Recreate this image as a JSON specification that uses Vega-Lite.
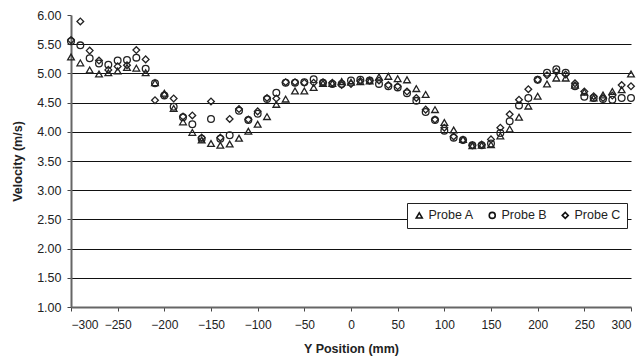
{
  "$schema": "https://vega.github.io/schema/vega-lite/v6.json",
  "width": 560,
  "height": 292,
  "autosize": {"type": "none"},
  "padding": {"left": 71, "top": 15, "right": 12, "bottom": 57},
  "background": "white",
  "config": {
    "view": {"stroke": null},
    "font": "Liberation Sans",
    "axis": {"labelFont": "Liberation Sans", "titleFont": "Liberation Sans", "labelColor": "#222", "titleColor": "#222"}
  },
  "data": {"values": [
    {"pos": -300, "A": 5.28, "B": 5.55, "C": 5.57},
    {"pos": -290, "A": 5.18, "B": 5.48, "C": 5.89},
    {"pos": -280, "A": 5.06, "B": 5.26, "C": 5.39},
    {"pos": -270, "A": 4.99, "B": 5.17, "C": 5.22},
    {"pos": -260, "A": 5.01, "B": 5.15, "C": 5.06},
    {"pos": -250, "A": 5.04, "B": 5.22, "C": 5.12},
    {"pos": -240, "A": 5.10, "B": 5.23, "C": 5.14},
    {"pos": -230, "A": 5.09, "B": 5.27, "C": 5.40},
    {"pos": -220, "A": 5.01, "B": 5.08, "C": 5.24},
    {"pos": -210, "A": 4.84, "B": 4.83, "C": 4.54},
    {"pos": -200, "A": 4.66, "B": 4.62, "C": 4.63},
    {"pos": -190, "A": 4.40, "B": 4.43, "C": 4.57},
    {"pos": -180, "A": 4.17, "B": 4.25, "C": 4.26},
    {"pos": -170, "A": 3.99, "B": 4.13, "C": 4.28},
    {"pos": -160, "A": 3.86, "B": 3.88, "C": 3.90},
    {"pos": -150, "A": 3.80, "B": 4.22, "C": 4.52},
    {"pos": -140, "A": 3.77, "B": 3.88, "C": 3.90},
    {"pos": -130, "A": 3.79, "B": 3.94, "C": 4.22},
    {"pos": -120, "A": 3.89, "B": 4.36, "C": 4.39},
    {"pos": -110, "A": 4.01, "B": 4.20, "C": 4.21},
    {"pos": -100, "A": 4.13, "B": 4.31, "C": 4.35},
    {"pos": -90, "A": 4.26, "B": 4.56, "C": 4.58},
    {"pos": -80, "A": 4.47, "B": 4.67, "C": 4.57},
    {"pos": -70, "A": 4.56, "B": 4.84, "C": 4.85},
    {"pos": -60, "A": 4.70, "B": 4.84, "C": 4.85},
    {"pos": -50, "A": 4.70, "B": 4.85, "C": 4.84},
    {"pos": -40, "A": 4.76, "B": 4.90, "C": 4.84},
    {"pos": -30, "A": 4.83, "B": 4.84, "C": 4.85},
    {"pos": -20, "A": 4.83, "B": 4.82, "C": 4.84},
    {"pos": -10, "A": 4.86, "B": 4.82, "C": 4.80},
    {"pos": 0, "A": 4.85, "B": 4.88, "C": 4.82},
    {"pos": 10, "A": 4.86, "B": 4.89, "C": 4.87},
    {"pos": 20, "A": 4.87, "B": 4.88, "C": 4.88},
    {"pos": 30, "A": 4.94, "B": 4.82, "C": 4.88},
    {"pos": 40, "A": 4.95, "B": 4.78, "C": 4.80},
    {"pos": 50, "A": 4.91, "B": 4.76, "C": 4.78},
    {"pos": 60, "A": 4.89, "B": 4.66, "C": 4.69},
    {"pos": 70, "A": 4.74, "B": 4.53, "C": 4.58},
    {"pos": 80, "A": 4.64, "B": 4.34, "C": 4.38},
    {"pos": 90, "A": 4.38, "B": 4.20, "C": 4.21},
    {"pos": 100, "A": 4.16, "B": 4.02, "C": 4.07},
    {"pos": 110, "A": 4.03, "B": 3.90, "C": 3.92},
    {"pos": 120, "A": 3.87, "B": 3.86, "C": 3.86},
    {"pos": 130, "A": 3.76, "B": 3.77, "C": 3.77},
    {"pos": 140, "A": 3.77, "B": 3.77, "C": 3.78},
    {"pos": 150, "A": 3.78, "B": 3.80, "C": 3.87},
    {"pos": 160, "A": 3.93, "B": 3.98, "C": 4.07},
    {"pos": 170, "A": 4.05, "B": 4.18, "C": 4.30},
    {"pos": 180, "A": 4.25, "B": 4.45, "C": 4.55},
    {"pos": 190, "A": 4.44, "B": 4.58, "C": 4.73},
    {"pos": 200, "A": 4.61, "B": 4.89, "C": 4.89},
    {"pos": 210, "A": 4.82, "B": 5.01, "C": 4.97},
    {"pos": 220, "A": 4.92, "B": 5.07, "C": 5.03},
    {"pos": 230, "A": 4.92, "B": 5.01, "C": 4.98},
    {"pos": 240, "A": 4.80, "B": 4.78, "C": 4.83},
    {"pos": 250, "A": 4.68, "B": 4.60, "C": 4.69},
    {"pos": 260, "A": 4.58, "B": 4.58, "C": 4.61},
    {"pos": 270, "A": 4.63, "B": 4.56, "C": 4.58},
    {"pos": 280, "A": 4.69, "B": 4.55, "C": 4.62},
    {"pos": 290, "A": 4.72, "B": 4.58, "C": 4.80},
    {"pos": 300, "A": 4.99, "B": 4.58, "C": 4.78}
  ]},
  "transform": [
    {"fold": ["A", "B", "C"], "as": ["probe", "velocity"]},
    {"calculate": "'Probe ' + datum.probe", "as": "Probe"}
  ],
  "mark": {"type": "point", "filled": false, "strokeWidth": 1.3, "size": 45, "opacity": 1},
  "encoding": {
    "x": {
      "field": "pos", "type": "quantitative",
      "scale": {"domain": [-300, 300], "nice": false, "zero": false},
      "axis": {
        "title": "Y Position (mm)", "titleFontSize": 12.5, "titleFontWeight": "bold", "titlePadding": 12,
        "values": [-300, -250, -200, -150, -100, -50, 0, 50, 100, 150, 200, 250, 300],
        "labelFontSize": 12, "labelPadding": 8, "grid": false,
        "domainColor": "#666", "domainWidth": 2, "tickColor": "#444", "tickSize": 4
      }
    },
    "y": {
      "field": "velocity", "type": "quantitative",
      "scale": {"domain": [1, 6], "nice": false, "zero": false},
      "axis": {
        "title": "Velocity (m/s)", "titleFontSize": 12.5, "titleFontWeight": "bold", "titlePadding": 12,
        "values": [1, 1.5, 2, 2.5, 3, 3.5, 4, 4.5, 5, 5.5, 6], "format": ".2f",
        "labelFontSize": 12.5, "labelPadding": 6,
        "domainColor": "#666", "domainWidth": 2, "tickColor": "#444", "tickSize": 4,
        "grid": true, "gridColor": "#111", "gridWidth": 1,
        "gridOpacity": {"condition": {"test": "datum.value >= 6 || datum.value <= 1", "value": 0}, "value": 1}
      }
    },
    "shape": {
      "field": "Probe", "type": "nominal",
      "scale": {"domain": ["Probe A", "Probe B", "Probe C"], "range": ["triangle-up", "circle", "diamond"]},
      "legend": {
        "title": null, "orient": "none", "direction": "horizontal",
        "legendX": 336, "legendY": 188,
        "strokeColor": "#222", "fillColor": "white", "padding": 6,
        "labelFontSize": 12.5, "labelColor": "#222", "symbolStrokeColor": "#111", "symbolStrokeWidth": 1.6,
        "symbolSize": 36, "symbolFillColor": "white", "columnPadding": 12, "labelOffset": 3
      }
    },
    "color": {"value": "#222"}
  }
}
